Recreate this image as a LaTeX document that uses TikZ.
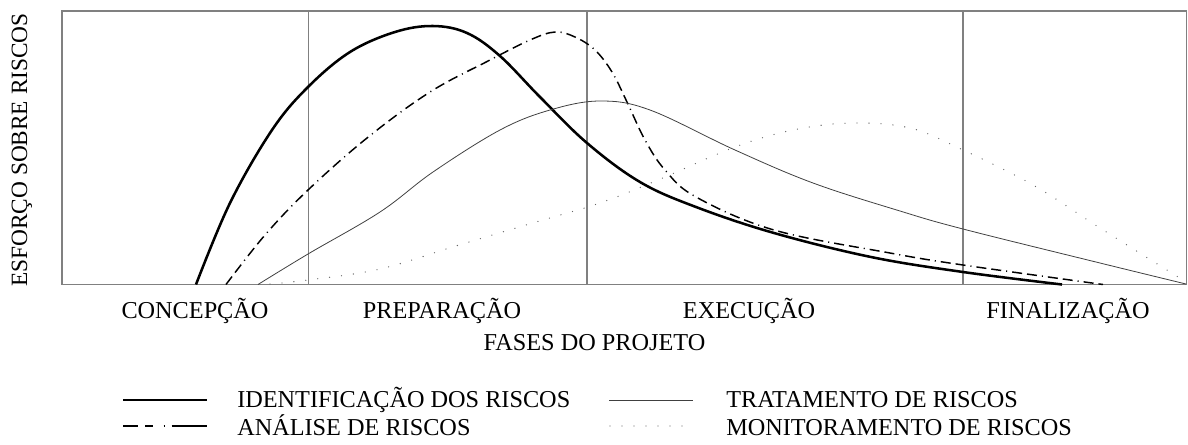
\documentclass[tikz,border=0pt]{standalone}
\usepackage{fontspec}
\setmainfont{Liberation Serif}
\usepackage{tikz}

\begin{document}
\begin{tikzpicture}[x=0.75pt,y=-0.75pt,
    rotulo/.style={font=\fontsize{18.2}{22}\selectfont, inner sep=0pt},
    moldura/.style={draw=black!50, line width=1.1pt},
    identificacao/.style={black, line width=1.9pt},
    analise/.style={black, line width=1.1pt,
        dash pattern=on 7.5pt off 3.75pt on 7.5pt off 3.75pt on 0.8pt off 3.75pt},
    tratamento/.style={black!75, line width=0.6pt},
    monitoramento/.style={black!60, line width=1pt, line cap=round,
        dash pattern=on 0pt off 9pt}]
                        \useasboundingbox (0,0) rectangle (1188,444);

                        \draw[moldura] (62,11) rectangle (1186.5,284.5);
                        \draw[moldura] (308.5,11) -- (308.5,284.5) (587,11) -- (587,284.5) (963,11) -- (963,284.5);

                        \draw[identificacao] plot[smooth, tension=0.6] coordinates {(196,284.5) (230,203) (272,130) (308,87) (350,52) (395,32) (433,26) (467,33) (500,56) (540,97) (587,143) (640,182) (696,207) (774,233) (871,257) (963,272) (1062,284.5)};
                        \draw[analise] plot[smooth, tension=0.6] coordinates {(226,284.5) (265,235) (308,190) (367,138) (430,92) (490,60) (530,40) (555,32) (575,37) (595,50) (612,72) (627,102) (645,140) (665,170) (696,197) (774,230) (890,253) (963,265) (1103,284.5)};
                        \draw[tratamento] plot[smooth, tension=0.6] coordinates {(258,284.5) (308,254) (380,212) (433,172) (500,130) (550,110) (600,101) (650,110) (735,150) (813,183) (900,211) (963,229) (1100,263) (1186,284)};
                        \draw[monitoramento] plot[smooth, tension=0.6] coordinates {(270,284) (308,280) (380,269) (459,245) (536,222) (600,203) (658,180) (735,147) (793,130) (851,123) (910,128) (963,150) (1033,185) (1100,228) (1186,282)};

                        \node[rotulo, font=\fontsize{17.5}{21}\selectfont, rotate=90, anchor=base] (eixoy) at (27,150) {ESFORÇO SOBRE RISCOS};
                        \node[rotulo, anchor=base] (concepcao) at (195,318) {CONCEPÇÃO};
                        \node[rotulo, anchor=base] (preparacao) at (442,318) {PREPARAÇÃO};
                        \node[rotulo, anchor=base] (execucao) at (749,318) {EXECUÇÃO};
                        \node[rotulo, anchor=base] (finalizacao) at (1068,318) {FINALIZAÇÃO};
                        \node[rotulo, anchor=base] (eixox) at (594.5,350) {FASES DO PROJETO};

                        \draw[identificacao] (123,400) -- (207,400);
                        \node[rotulo, anchor=base west] (legident) at (237,407) {IDENTIFICAÇÃO DOS RISCOS};
                        \draw[tratamento] (609,400) -- (693,400);
                        \node[rotulo, anchor=base west] (legtrat) at (726,407) {TRATAMENTO DE RISCOS};
                        \draw[analise, dash pattern=on 11.25pt off 5.25pt on 6pt off 8pt on 0.8pt off 5.25pt on 30pt] (123,426) -- (207,426);
                        \node[rotulo, anchor=base west] (leganal) at (237,435) {ANÁLISE DE RISCOS};
                        \draw[monitoramento] (610,426) -- (693,426);
                        \node[rotulo, anchor=base west] (legmon) at (726,435) {MONITORAMENTO DE RISCOS};
                    \end{tikzpicture}
\end{document}
